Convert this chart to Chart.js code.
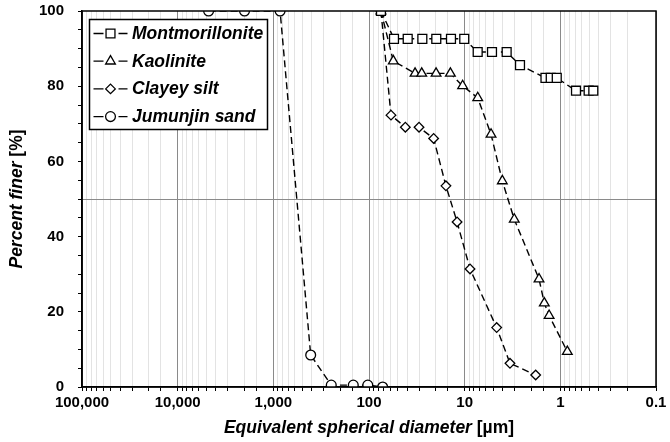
<!DOCTYPE html>
<html><head><meta charset="utf-8">
<script src="https://cdn.jsdelivr.net/npm/chart.js@4"></script>
<style>html,body{margin:0;padding:0;background:#fff}</style>
</head><body>
<canvas id="c" width="670" height="442"></canvas>
<script>
// ---- data ----
const seriesNames = ['Montmorillonite', 'Kaolinite', 'Clayey silt', 'Jumunjin sand'];

const montDiameter = [75, 54.8, 39.4, 27.7, 19.8, 13.9, 10.1, 7.31, 5.18, 3.64, 2.64, 1.43, 1.26, 1.09, 0.686, 0.506, 0.452];
const montFiner    = [100, 92.6, 92.6, 92.6, 92.6, 92.6, 92.6, 89.1, 89.1, 89.1, 85.6, 82.2, 82.2, 82.2, 78.8, 78.8, 78.8];

const kaolDiameter = [75, 55.7, 33.0, 28.1, 19.9, 14.1, 10.5, 7.3, 5.3, 4.04, 3.03, 1.67, 1.47, 1.31, 0.845];
const kaolFiner    = [100, 86.7, 83.4, 83.4, 83.4, 83.4, 80.1, 76.9, 67.2, 54.8, 44.6, 28.7, 22.3, 19.0, 9.4];

const siltDiameter = [75, 58.9, 41.7, 30.0, 21.1, 15.7, 12.0, 8.79, 4.63, 3.36, 1.81];
const siltFiner    = [100, 72.3, 69.1, 69.1, 66.1, 53.5, 43.9, 31.4, 15.8, 6.3, 3.2];

const sandDiameter = [4750, 2000, 850, 407, 248, 146, 103, 72];
const sandFiner    = [100, 100, 100, 8.5, 0.5, 0.5, 0.5, 0];

const xTickValues = [100000, 10000, 1000, 100, 10, 1, 0.1];
const xTickLabels = ['100,000', '10,000', '1,000', '100', '10', '1', '0.1'];
const yTickValues = [0, 20, 40, 60, 80, 100];

const xTitleMain = 'Equivalent spherical diameter ';
const xTitleUnit = '[µm]';
const yTitleMain = 'Percent finer ';
const yTitleUnit = '[%]';

// ---- build ----
const FONT = '"Liberation Sans", Arial, sans-serif';
Chart.defaults.font.family = FONT;
Chart.defaults.color = '#000';

function pts(xs, ys) { return xs.map((x, i) => ({ x: x, y: ys[i] })); }

const styles = [
  { pointStyle: 'rect', pointRadius: 6.3 },
  { pointStyle: 'triangle', pointRadius: 5.6 },
  { pointStyle: 'rectRot', pointRadius: 4.8 },
  { pointStyle: 'circle', pointRadius: 4.9 }
];
const seriesData = [
  pts(montDiameter, montFiner),
  pts(kaolDiameter, kaolFiner),
  pts(siltDiameter, siltFiner),
  pts(sandDiameter, sandFiner)
];

const datasets = seriesNames.map((name, i) => ({
  label: name,
  data: seriesData[i],
  showLine: true,
  borderColor: '#000',
  borderWidth: 1.4,
  borderDash: [7, 4],
  pointStyle: styles[i].pointStyle,
  pointRadius: styles[i].pointRadius,
  pointHoverRadius: styles[i].pointRadius,
  pointBackgroundColor: '#fff',
  pointBorderColor: '#000',
  pointBorderWidth: 1.3,
  tension: 0
}));

function isDecade(v) {
  const l = Math.log10(v);
  return Math.abs(l - Math.round(l)) < 1e-6;
}

function drawMarker(ctx, style, r, x, y) {
  ctx.save();
  ctx.fillStyle = '#fff';
  ctx.strokeStyle = '#000';
  ctx.lineWidth = 1.3;
  ctx.setLineDash([]);
  if (Chart.helpers && Chart.helpers.drawPoint) {
    Chart.helpers.drawPoint(ctx, { pointStyle: style, radius: r, borderWidth: 1.3, rotation: 0 }, x, y);
  }
  ctx.restore();
}

const frame = {
  id: 'frame',
  afterDraw(chart) {
    const { ctx, chartArea: a } = chart;
    ctx.save();
    ctx.strokeStyle = '#000';
    ctx.lineWidth = 1.5;
    ctx.strokeRect(a.left, a.top, a.right - a.left, a.bottom - a.top);
    ctx.restore();
  }
};

const legendBox = {
  id: 'legendBox',
  afterDraw(chart) {
    const { ctx, chartArea: a } = chart;
    const x0 = a.left + 7.5, y0 = a.top + 8.5, w = 178, h = 110;
    ctx.save();
    ctx.fillStyle = '#fff';
    ctx.fillRect(x0, y0, w, h);
    ctx.strokeStyle = '#000';
    ctx.lineWidth = 1.5;
    ctx.strokeRect(x0, y0, w, h);
    chart.data.datasets.forEach((ds, i) => {
      const cy = y0 + 14 + i * 27.7;
      ctx.strokeStyle = '#000';
      ctx.lineWidth = 1.3;
      ctx.setLineDash([]);
      ctx.beginPath();
      ctx.moveTo(x0 + 4, cy); ctx.lineTo(x0 + 14, cy);
      ctx.moveTo(x0 + 29, cy); ctx.lineTo(x0 + 38, cy);
      ctx.stroke();
      drawMarker(ctx, ds.pointStyle, ds.pointRadius, x0 + 21, cy);
      ctx.fillStyle = '#000';
      ctx.font = 'italic bold 17.5px ' + FONT;
      ctx.textBaseline = 'middle';
      ctx.textAlign = 'left';
      ctx.fillText(ds.label, x0 + 42.5, cy + 0.5);
    });
    ctx.restore();
  }
};

const axisTitles = {
  id: 'axisTitles',
  afterDraw(chart) {
    const { ctx, chartArea: a } = chart;
    const fMain = 'italic bold 17.5px ' + FONT;
    const fUnit = 'bold 17.5px ' + FONT;
    ctx.save();
    ctx.fillStyle = '#000';
    ctx.textBaseline = 'middle';
    ctx.textAlign = 'left';
    // x title
    ctx.font = fMain; const w1 = ctx.measureText(xTitleMain).width;
    ctx.font = fUnit; const w2 = ctx.measureText(xTitleUnit).width;
    let sx = (a.left + a.right) / 2 - (w1 + w2) / 2;
    const ty = chart.scales.x.bottom - 14;
    ctx.font = fMain; ctx.fillText(xTitleMain, sx, ty);
    ctx.font = fUnit; ctx.fillText(xTitleUnit, sx + w1, ty);
    // y title
    ctx.font = fMain; const v1 = ctx.measureText(yTitleMain).width;
    ctx.font = fUnit; const v2 = ctx.measureText(yTitleUnit).width;
    ctx.translate(chart.scales.y.left + 17, (a.top + a.bottom) / 2);
    ctx.rotate(-Math.PI / 2);
    const s2 = -(v1 + v2) / 2;
    ctx.font = fMain; ctx.fillText(yTitleMain, s2, 0);
    ctx.font = fUnit; ctx.fillText(yTitleUnit, s2 + v1, 0);
    ctx.restore();
  }
};

new Chart(document.getElementById('c'), {
  type: 'scatter',
  data: { datasets: datasets },
  options: {
    responsive: false,
    devicePixelRatio: 1,
    animation: false,
    layout: { padding: { left: 0, right: 14, top: 11, bottom: 0 } },
    plugins: { legend: { display: false }, tooltip: { enabled: false } },
    scales: {
      x: {
        type: 'logarithmic',
        reverse: true,
        min: 0.1,
        max: 100000,
        afterFit: (s) => { s.height = 55; },
        border: { color: '#000', width: 1.5 },
        grid: {
          color: (c) => (c.tick && isDecade(c.tick.value)) ? '#8a8a8a' : '#e3e3e3',
          lineWidth: 1,
          tickColor: '#000',
          tickLength: 4,
          drawTicks: true
        },
        ticks: {
          autoSkip: false,
          maxRotation: 0,
          padding: 3,
          font: { size: 15, weight: 'bold' },
          color: '#000',
          callback: function (v) {
            if (!isDecade(v)) return '';
            const idx = xTickValues.findIndex(t => Math.abs(Math.log10(t) - Math.log10(v)) < 1e-6);
            return idx >= 0 ? xTickLabels[idx] : '';
          }
        }
      },
      y: {
        min: 0,
        max: 100,
        afterFit: (s) => { s.width = 82; s.paddingTop = 0; s.paddingBottom = 0; },
        border: { color: '#000', width: 1.5 },
        grid: {
          color: (c) => (c.tick && c.tick.value === 50) ? '#8a8a8a' : 'rgba(0,0,0,0)',
          lineWidth: 1,
          tickColor: '#000',
          tickLength: 4
        },
        ticks: {
          stepSize: 5,
          autoSkip: false,
          padding: 14,
          font: { size: 15, weight: 'bold' },
          color: '#000',
          callback: (v) => yTickValues.includes(v) ? String(v) : ''
        }
      }
    }
  },
  plugins: [frame, legendBox, axisTitles]
});
</script>
</body></html>
